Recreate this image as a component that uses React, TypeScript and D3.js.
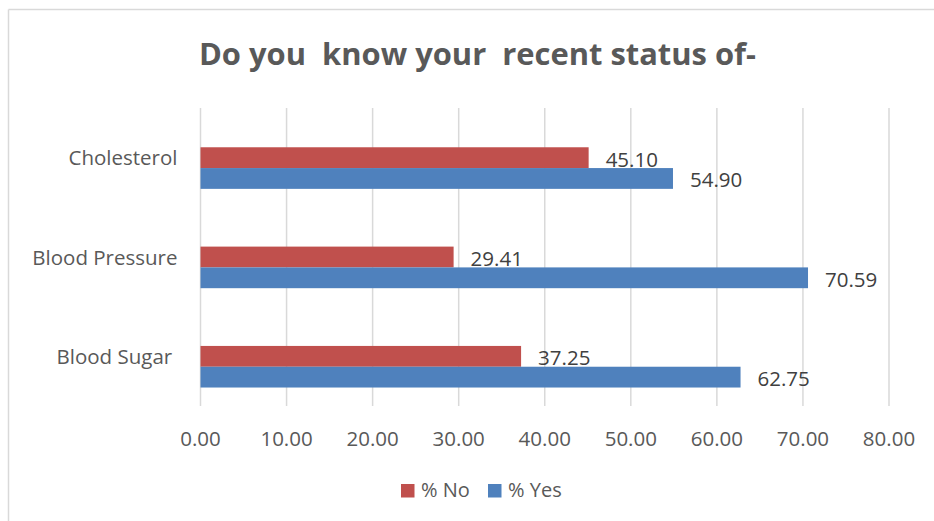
import React from "react";
import * as d3 from "d3";

const categories = ["Cholesterol", "Blood Pressure", "Blood Sugar "];
const seriesNames = ["% No", "% Yes"];
const noValues = [45.1, 29.41, 37.25];
const yesValues = [54.9, 70.59, 62.75];
const xTicks = [0, 10, 20, 30, 40, 50, 60, 70, 80];
const title = "Do you  know your  recent status of-";

const RED = "#C0504D";
const BLUE = "#4F81BD";
const FONT = "'Open Sans', 'DejaVu Sans', sans-serif";

export default function App() {
  const W = 934;
  const H = 521;
  const x = d3.scaleLinear().domain([0, 80]).range([200.5, 889]);
  const y0 = d3
    .scaleBand<string>()
    .domain(categories)
    .range([108, 406])
    .paddingInner(0.372)
    .paddingOuter(0.186);
  const bandTop = (c: string) => (y0(c) as number);
  // three slots per group, the first one is an empty (hidden) series slot
  const slots = ["", ...seriesNames];
  const y1 = d3.scaleBand<string>().domain(slots).range([0, y0.bandwidth()]);
  const step = y0.step();
  const catCenter = (i: number) => 108 + step * (i + 0.5);

  const series = [
    { name: seriesNames[0], values: noValues, color: RED },
    { name: seriesNames[1], values: yesValues, color: BLUE },
  ];

  return (
    <svg
      width={W}
      height={H}
      style={{ position: "absolute", left: 0, top: 0, background: "#fff" }}
      fontFamily={FONT}
    >
      <rect x={0} y={0} width={W} height={H} fill="#fff" />
      {/* frame */}
      <line x1={8.5} x2={W} y1={9.5} y2={9.5} stroke="#D9D9D9" strokeWidth={1.5} />
      <line x1={8.5} x2={8.5} y1={9.5} y2={H} stroke="#D9D9D9" strokeWidth={1.5} />

      <text
        x={477.5}
        y={65}
        textAnchor="middle"
        fontSize={30}
        fontWeight="bold"
        fill="#595959"
        textLength={557}
        lengthAdjust="spacingAndGlyphs"
        style={{ whiteSpace: "pre" }}
      >
        {title}
      </text>

      {/* gridlines */}
      {xTicks.map((t) => (
        <line
          key={"g" + t}
          x1={x(t)}
          x2={x(t)}
          y1={108}
          y2={406}
          stroke="#D9D9D9"
          strokeWidth={1.5}
        />
      ))}

      {/* bars */}
      {series.map((s) =>
        categories.map((c, i) => {
          const yy = bandTop(c) + (y1(s.name) as number);
          const h = y1.bandwidth();
          return (
            <g key={s.name + c}>
              <rect x={x(0)} y={yy} width={x(s.values[i]) - x(0)} height={h} fill={s.color} />
              <text
                x={x(s.values[i]) + 17}
                y={yy + h / 2 + 9}
                fontSize={20.5}
                fill="#404040"
              >
                {s.values[i].toFixed(2)}
              </text>
            </g>
          );
        })
      )}

      {/* category labels */}
      {categories.map((c, i) => (
        <text
          key={"c" + c}
          x={177.5}
          y={catCenter(i) + 7.5}
          textAnchor="end"
          fontSize={20.5}
          fill="#595959"
          style={{ whiteSpace: "pre" }}
        >
          {c}
        </text>
      ))}

      {/* x tick labels */}
      {xTicks.map((t) => (
        <text
          key={"t" + t}
          x={x(t)}
          y={446}
          textAnchor="middle"
          fontSize={20.5}
          fill="#595959"
        >
          {t.toFixed(2)}
        </text>
      ))}

      {/* legend */}
      {series.map((s, i) => {
        const lx = i === 0 ? 401 : 488;
        return (
          <g key={"l" + s.name}>
            <rect x={lx} y={484} width={13.5} height={13.5} fill={s.color} />
            <text x={lx + 20} y={497} fontSize={20} fill="#595959">
              {s.name}
            </text>
          </g>
        );
      })}
    </svg>
  );
}
